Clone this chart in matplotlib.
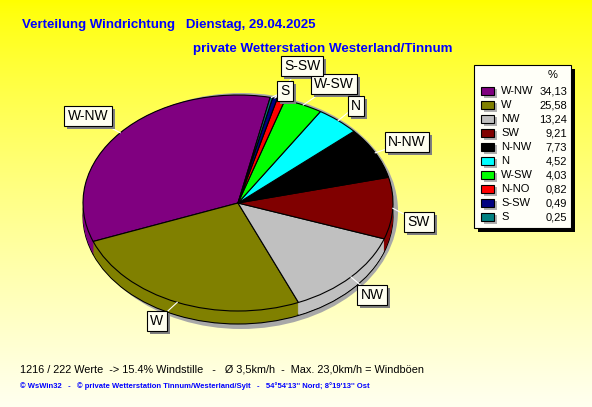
import matplotlib
matplotlib.use("Agg")
import matplotlib.pyplot as plt
from matplotlib.patches import Rectangle, Ellipse
import numpy as np

plt.rcParams["font.family"] = ["Liberation Sans", "DejaVu Sans"]

# data
directions = ["W-NW", "W", "NW", "SW", "N-NW", "N", "W-SW", "N-NO", "S-SW", "S"]
percent = [34.13, 25.58, 13.24, 9.21, 7.73, 4.52, 4.03, 0.82, 0.49, 0.25]
percent_text = ["34,13", "25,58", "13,24", "9,21", "7,73", "4,52", "4,03", "0,82", "0,49", "0,25"]
colors = ["#800080", "#808000", "#C0C0C0", "#800000", "#000000",
          "#00FFFF", "#00FF00", "#FF0000", "#000080", "#008080"]

title1 = "Verteilung Windrichtung   Dienstag, 29.04.2025"
title2 = "private Wetterstation Westerland/Tinnum"
info = "1216 / 222 Werte  -> 15.4% Windstille   -   \u00d8 3,5km/h  -  Max. 23,0km/h = Windb\u00f6en"
footer = "\u00a9 WsWin32   -   \u00a9 private Wetterstation Tinnum/Westerland/Sylt   -   54\u00b054'13'' Nord; 8\u00b019'13'' Ost"

# label boxes (pixel positions), N-NO has no label in the original
label_pos = {"W-NW": (88, 116), "W": (157, 321), "NW": (372, 295), "SW": (419, 222),
             "N-NW": (407, 142), "N": (356, 106), "W-SW": (334, 84), "S-SW": (302, 66),
             "S": (285, 91)}

W, H = 592, 407
CX, CY, RX, RY = 238, 203, 155, 108
DEPTH = 13
START = 78

fig = plt.figure(figsize=(W / 100, H / 100), dpi=100)

# background gradient
bg = fig.add_axes([0, 0, 1, 1], zorder=0)
grad = np.linspace(0, 1, 256).reshape(-1, 1)
top = np.array([1.0, 1.0, 0.0])
bot = np.array([1.0, 1.0, 0.94])
img = top + (bot - top) * grad[..., None] ** 0.8
bg.imshow(img, aspect="auto", extent=(0, W, H, 0))
bg.set_xlim(0, W)
bg.set_ylim(H, 0)
bg.axis("off")

# pie axes: unit circle maps to an ellipse of RX x RY pixels
pax = fig.add_axes([0, 0, 1, 1], zorder=1)
pax.patch.set_alpha(0)


def to_pie(px, py):
    return (px - CX) / RX, (CY - py) / RY


pax.add_patch(Ellipse(to_pie(CX + 3, CY + 8), 2 * 157 / RX, 2 * 118 / RY,
                      facecolor="#A8A8A8", edgecolor="none", zorder=0))

# side of the pie (stacked layers)
for k in range(DEPTH, -1, -1):
    dy = -k / RY
    edge = "black" if k == DEPTH else "none"
    wedges, _ = pax.pie(percent, colors=colors, startangle=START, counterclock=True,
                        center=(0, dy), radius=1,
                        wedgeprops=dict(edgecolor=edge, linewidth=0.8 if k == DEPTH else 0))
    for w in wedges:
        w.set_zorder(1)

wedges, _ = pax.pie(percent, colors=colors, startangle=START, counterclock=True,
                    center=(0, 0), radius=1,
                    wedgeprops=dict(edgecolor="black", linewidth=0.8))
for w in wedges:
    w.set_zorder(2)

pax.set_aspect("auto")
pax.set_xlim(to_pie(0, 0)[0], to_pie(W, 0)[0])
pax.set_ylim(to_pie(0, H)[1], to_pie(0, 0)[1])
pax.axis("off")

# leader lines
for w, name in zip(wedges, directions):
    if name not in label_pos:
        continue
    mid = np.deg2rad((w.theta1 + w.theta2) / 2)
    x0, y0 = np.cos(mid), np.sin(mid)
    x1, y1 = to_pie(*label_pos[name])
    pax.plot([x0, x1], [y0, y1], color="white", lw=0.8, zorder=3)

# text axes in pixel coordinates
tax = fig.add_axes([0, 0, 1, 1], zorder=2)
tax.patch.set_alpha(0)
tax.set_xlim(0, W)
tax.set_ylim(H, 0)
tax.axis("off")

labels = []
for name, (lx, ly) in label_pos.items():
    t = tax.text(lx, ly, name, fontsize=10, ha="center", va="center", color="black", zorder=5,
                 bbox=dict(boxstyle="square,pad=0.24", facecolor="#FFFFF0", edgecolor="black",
                           linewidth=0.8))
    labels.append(t)

# drop shadows behind the label boxes
fig.canvas.draw()
renderer = fig.canvas.get_renderer()
inv = tax.transData.inverted()
for t in labels:
    ext = t.get_bbox_patch().get_window_extent(renderer)
    (x0, y0), (x1, y1) = inv.transform([[ext.x0 + 3, ext.y0 - 3], [ext.x1 + 3, ext.y1 - 3]])
    tax.add_patch(Rectangle((min(x0, x1), min(y0, y1)), abs(x1 - x0), abs(y1 - y0),
                            facecolor="#808080", edgecolor="none", zorder=4))

# titles
tax.text(22, 25, title1, fontsize=9.5, fontweight="bold", color="#0000FF", va="center")
tax.text(193, 49, title2, fontsize=9.6, fontweight="bold", color="#0000FF", va="center")
tax.text(20, 369, info, fontsize=7.8, color="black", va="center")
tax.text(20, 386, footer, fontsize=5.5, fontweight="bold", color="#0000FF", va="center")

# legend
lx0, ly0, lw_, lh_ = 474, 65, 97, 163
tax.add_patch(Rectangle((lx0 + 4, ly0 + 4), lw_, lh_, facecolor="black", edgecolor="none"))
tax.add_patch(Rectangle((lx0, ly0), lw_, lh_, facecolor="#FFFFF8", edgecolor="black", lw=0.8))
tax.text(553, 75, "%", fontsize=8, ha="center", va="center")
for i, (name, val, c) in enumerate(zip(directions, percent_text, colors)):
    y = 91 + 14 * i
    tax.add_patch(Rectangle((484, y - 2), 13, 9, facecolor="#B0B0B0", edgecolor="none"))
    tax.add_patch(Rectangle((481, y - 4.5), 13, 8, facecolor=c, edgecolor="black", lw=0.8))
    tax.text(501, y, name, fontsize=8, va="center")
    tax.text(567, y, val, fontsize=8, va="center", ha="right")

fig.savefig("out.png", dpi=100)
